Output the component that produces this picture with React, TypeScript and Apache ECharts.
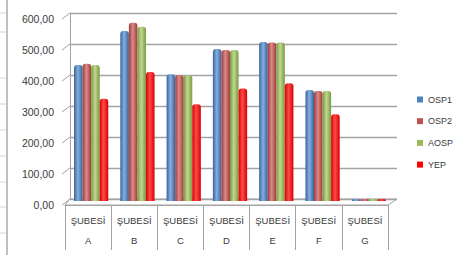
import React, { useEffect, useRef } from 'react';
import * as echarts from 'echarts';

const categories = ['A', 'B', 'C', 'D', 'E', 'F', 'G'];
const categoryPrefix = 'ŞUBESİ';
const seriesNames = ['OSP1', 'OSP2', 'AOSP', 'YEP'];
const osp1 = [439, 548, 409, 490, 513, 358, 0];
const osp2 = [443, 575, 406, 487, 511, 355, 0];
const aosp = [439, 562, 406, 487, 511, 355, 0];
const yep = [330, 416, 312, 363, 380, 280, 0];
const yTicks = [0, 100, 200, 300, 400, 500, 600];
const sheetRows = [13, 32, 78, 104, 130, 156, 182, 207, 233];

const baseColors = ['#4F81BD', '#C0504D', '#9BBB59', '#FF0000'];
const darkColors = ['#37649c', '#9c3c3a', '#7a9a40', '#d80000'];
const lightColors = ['#86aee0', '#dc8a87', '#bfd890', '#ff4a4a'];

// layout
const W = 455, H = 255;
const FRONT = { left: 65, right: 388, top: 19, bottom: 205 };
const BACK = { left: 70, right: 397, top: 13, bottom: 199 };
const MID = { left: 68, right: 392, top: 15, bottom: 201 };

export default function App() {
  const ref = useRef<HTMLDivElement>(null);
  useEffect(() => {
    if (!ref.current) return;
    const chart = echarts.init(ref.current, undefined, { renderer: 'svg' });
    const seriesData = [osp1, osp2, aosp, yep];
    const font = 'Liberation Sans';
    const grayAxis = '#a3a3a3';
    const textColor = '#3a3a3a';
    const yMax = yTicks[yTicks.length - 1];
    const yF = (v: number) => FRONT.bottom - (v / yMax) * (FRONT.bottom - FRONT.top);
    const yB = (v: number) => BACK.bottom - (v / yMax) * (BACK.bottom - BACK.top);

    const graphics: any[] = [];
    // spreadsheet border on left
    graphics.push({ type: 'line', z: -10, shape: { x1: 7, y1: 0, x2: 7, y2: H }, style: { stroke: '#bfbfbf', lineWidth: 2 } });
    sheetRows.forEach((y) => graphics.push({ type: 'line', z: -10, shape: { x1: 0, y1: y, x2: 6, y2: y }, style: { stroke: '#d4d4d4', lineWidth: 1 } }));
    // floor
    graphics.push({
      type: 'polygon', z: -5,
      shape: { points: [[FRONT.left, FRONT.bottom], [FRONT.right, FRONT.bottom], [BACK.right, BACK.bottom], [BACK.left, BACK.bottom]] },
      style: { fill: '#ffffff', stroke: grayAxis, lineWidth: 1 },
    });
    // left diagonal ticks
    yTicks.forEach((v) => graphics.push({ type: 'line', z: -5, shape: { x1: FRONT.left - 3, y1: yF(v), x2: BACK.left, y2: yB(v) }, style: { stroke: grayAxis, lineWidth: 1 } }));

    chart.setOption({
      animation: false,
      grid: [
        { left: BACK.left, width: BACK.right - BACK.left, top: BACK.top, height: BACK.bottom - BACK.top },
        { left: MID.left, width: MID.right - MID.left, top: MID.top, height: MID.bottom - MID.top },
        { left: FRONT.left, width: FRONT.right - FRONT.left, top: FRONT.top, height: FRONT.bottom - FRONT.top },
      ],
      xAxis: [
        { gridIndex: 0, type: 'category', data: categories, show: false },
        { gridIndex: 1, type: 'category', data: categories, show: false },
        {
          gridIndex: 2, type: 'category', data: categories,
          axisLine: { show: true, lineStyle: { color: grayAxis, width: 1 } },
          axisTick: { show: true, length: 45, lineStyle: { color: grayAxis } },
          axisLabel: {
            margin: 5, fontFamily: font, fontSize: 9.5, color: textColor, lineHeight: 20,
            formatter: (v: string) => categoryPrefix + '\n' + v,
          },
        },
      ],
      yAxis: [
        {
          gridIndex: 0, type: 'value', min: 0, max: yMax, interval: 100,
          axisLine: { show: true, lineStyle: { color: grayAxis } }, axisTick: { show: false }, axisLabel: { show: false },
          splitLine: { show: true, lineStyle: { color: grayAxis, width: 1.3 } },
        },
        { gridIndex: 1, type: 'value', min: 0, max: yMax, interval: 100, show: false, splitLine: { show: false } },
        {
          gridIndex: 2, type: 'value', min: 0, max: yMax, interval: 100,
          axisLine: { show: false }, axisTick: { show: false }, splitLine: { show: false },
          axisLabel: {
            margin: 11, fontFamily: font, fontSize: 10.5, color: textColor,
            formatter: (v: number) => v.toFixed(2).replace('.', ','),
          },
        },
      ],
      legend: {
        orient: 'vertical', left: 412, top: 88.5, itemWidth: 6, itemHeight: 6, itemGap: 9.7,
        icon: 'rect',
        textStyle: { fontFamily: font, fontSize: 9, color: textColor, lineHeight: 12 },
        data: seriesNames.map((n, i) => ({ name: n, itemStyle: { color: baseColors[i] } })),
      },
      series: seriesNames.map((name, i) => ({
        name, type: 'bar', xAxisIndex: 1, yAxisIndex: 1, data: seriesData[i],
        barGap: '0%', barCategoryGap: '26%', barMinHeight: 2,
        itemStyle: {
          borderRadius: [3, 3, 0, 0],
          color: new echarts.graphic.LinearGradient(0, 0, 1, 0, [
            { offset: 0, color: darkColors[i] },
            { offset: 0.45, color: lightColors[i] },
            { offset: 1, color: darkColors[i] },
          ]),
        },
      })),
      graphic: graphics,
    });
    return () => chart.dispose();
  }, []);
  return <div ref={ref} style={{ width: W, height: H, position: 'absolute', left: 0, top: 0 }} />;
}
